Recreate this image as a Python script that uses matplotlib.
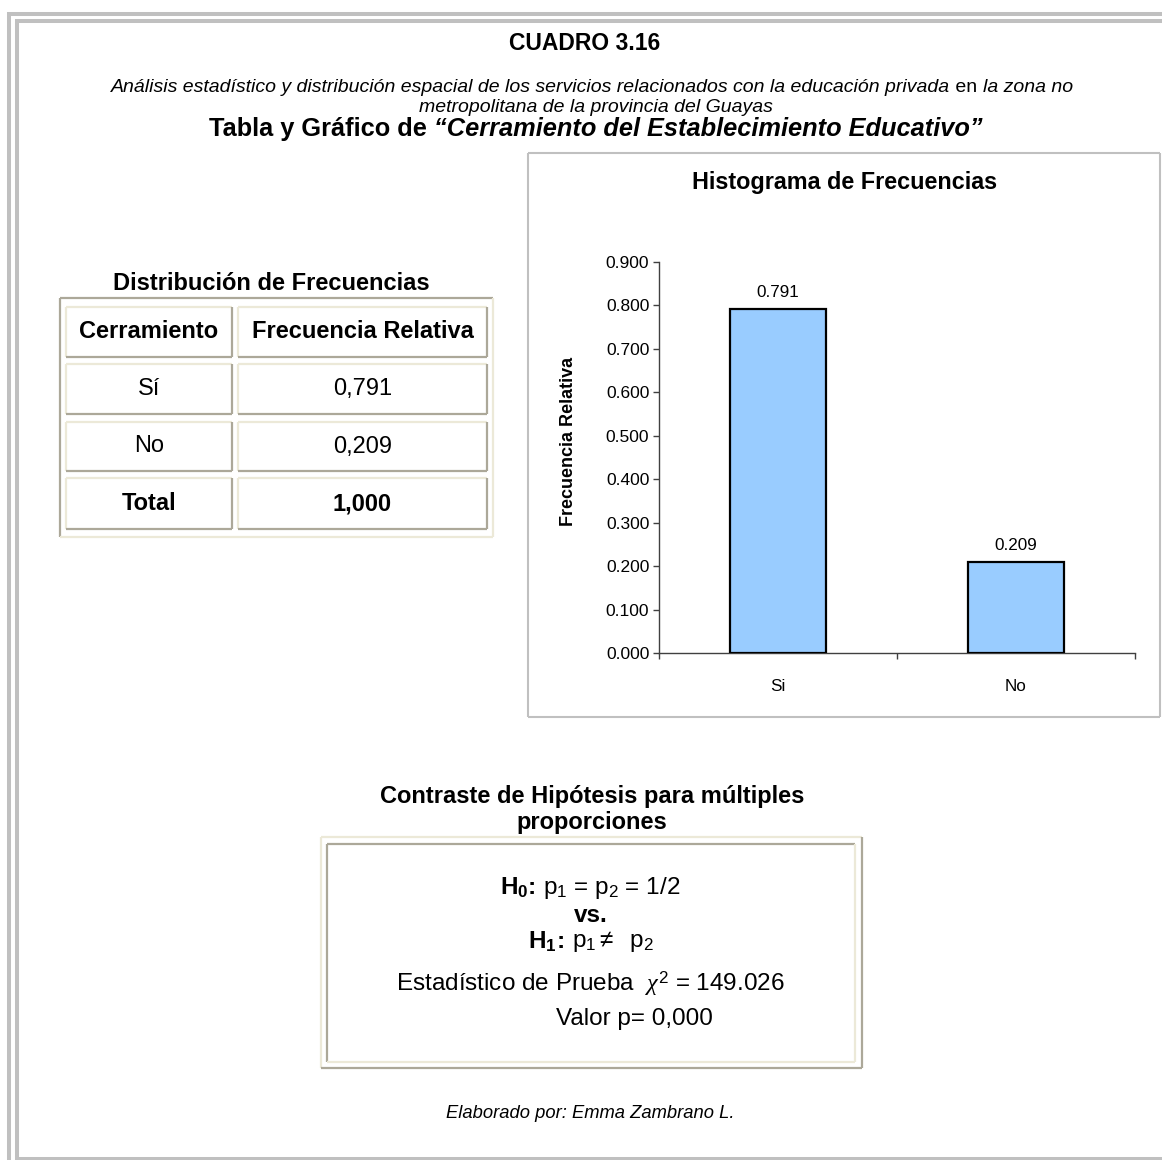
import numpy as np
import matplotlib
matplotlib.use("Agg")
import matplotlib.pyplot as plt
from matplotlib.ticker import FixedLocator, FormatStrFormatter

plt.rcParams['font.family'] = ['Liberation Sans', 'DejaVu Sans']
plt.rcParams['mathtext.fontset'] = 'custom'
plt.rcParams['mathtext.rm'] = 'Liberation Sans'
plt.rcParams['mathtext.bf'] = 'Liberation Sans:bold'
plt.rcParams['mathtext.it'] = 'Liberation Serif:italic'

# data
categorias = ['Si', 'No']
frecuencias = [0.791, 0.209]
y_ticks = [0.0, 0.1, 0.2, 0.3, 0.4, 0.5, 0.6, 0.7, 0.8, 0.9]

tabla_cols = ['Cerramiento', 'Frecuencia Relativa']
tabla_cats = ['Sí', 'No', 'Total']
tabla_vals = ['0,791', '0,209', '1,000']

chi2 = '149.026'
valor_p = '0,000'

W, H = 1162, 1160
GRAY = '#c0c0c0'
DARK = '#aca899'
LIGHT = '#ece9d8'

fig = plt.figure(figsize=(W / 100, H / 100), dpi=100, facecolor='w')
bg = fig.add_axes([0, 0, 1, 1])
bg.set_xlim(0, W)
bg.set_ylim(H, 0)
bg.axis('off')


def hline(x0, x1, y, c, lw):
    bg.plot([x0, x1], [y, y], c=c, lw=lw, solid_capstyle='butt')


def vline(x, y0, y1, c, lw):
    bg.plot([x, x], [y0, y1], c=c, lw=lw, solid_capstyle='butt')


def box3d(x0, y0, x1, y1, tl, br, lw=1.3):
    hline(x0, x1, y0, tl, lw)
    vline(x0, y0, y1, tl, lw)
    hline(x0, x1, y1, br, lw)
    vline(x1, y0, y1, br, lw)


def runs(x, y, parts, size):
    # draw text pieces one after the other, centred on x
    texts = [bg.text(0, y, s, fontsize=size, va='center', ha='left', **kw)
             for s, kw in parts]
    fig.canvas.draw()
    r = fig.canvas.get_renderer()
    widths = [t.get_window_extent(r).width for t in texts]
    cur = x - sum(widths) / 2
    for t, w in zip(texts, widths):
        t.set_x(cur)
        cur += w


# page border
hline(7, W, 14, GRAY, 2.9)
vline(9, 12, H, GRAY, 2.9)
hline(15, W, 21, GRAY, 2.9)
vline(17, 19, H, GRAY, 2.9)
hline(15, W, 1159, GRAY, 2.9)

# titles
B = dict(fontweight='bold')
it = dict(style='italic')
bg.text(585, 43, 'CUADRO 3.16', fontsize=16.5, fontweight='bold', ha='center', va='center')
runs(592, 87, [('Análisis estadístico y distribución espacial de los servicios relacionados '
                'con la educación privada', it), (' en ', {}), ('la zona no', it)], 14)
bg.text(596, 107, 'metropolitana de la provincia del Guayas', fontsize=14, style='italic',
        ha='center', va='center')
runs(596, 129, [('Tabla y Gráfico de ', B),
                ('“Cerramiento del Establecimiento Educativo”',
                 dict(fontweight='bold', style='italic'))], 18.3)

# frequency table
bg.text(271, 284, 'Distribución de Frecuencias', fontsize=17, fontweight='bold',
        ha='center', va='center')
box3d(60, 298, 493, 537, DARK, LIGHT, lw=1.6)
col_x = [(66, 232), (238, 487)]
row_y = [(307, 357), (364, 414), (422, 471), (478, 529)]
filas = [tabla_cols] + [[c, v] for c, v in zip(tabla_cats, tabla_vals)]
for i, fila in enumerate(filas):
    y0, y1 = row_y[i]
    for j, txt in enumerate(fila):
        x0, x1 = col_x[j]
        box3d(x0, y0, x1, y1, LIGHT, DARK, lw=1.6)
        bold = i == 0 or i == len(filas) - 1
        bg.text((x0 + x1) / 2, (y0 + y1) / 2, txt, fontsize=17,
                fontweight='bold' if bold else 'normal', ha='center', va='center')

# chart frame
box3d(528, 153, 1160, 717, GRAY, GRAY, lw=1.5)
bg.text(845, 183, 'Histograma de Frecuencias', fontsize=16.8, fontweight='bold',
        ha='center', va='center')

ax = fig.add_axes([659 / W, 1 - 653 / H, (1135 - 659) / W, (653 - 262) / H])
x = np.arange(len(categorias))
ax.bar(x, frecuencias, width=0.4, color='#99ccff', edgecolor='black', lw=1.6, zorder=3)
for xi, v in zip(x, frecuencias):
    ax.annotate(f'{v:.3f}', (xi, v), xytext=(0, 12), textcoords='offset points',
                ha='center', va='center', fontsize=12.3)
ax.set_xlim(-0.5, len(categorias) - 0.5)
ax.set_ylim(0, 0.9)
ax.set_yticks(y_ticks)
ax.yaxis.set_major_formatter(FormatStrFormatter('%.3f'))
ax.set_xticks(x)
ax.set_xticklabels(categorias)
ax.xaxis.set_minor_locator(FixedLocator(np.arange(len(categorias) + 1) - 0.5))
ax.tick_params(axis='x', which='major', length=0, pad=19, labelsize=12.3)
ax.tick_params(axis='x', which='minor', length=4, width=1, color='#404040', direction='out')
ax.tick_params(axis='y', length=4, width=1, color='#404040', labelsize=12.5, pad=3)
for s in ['top', 'right']:
    ax.spines[s].set_visible(False)
for s in ['left', 'bottom']:
    ax.spines[s].set_color('#404040')
    ax.spines[s].set_linewidth(1)
ax.set_ylabel('Frecuencia Relativa', fontsize=13, fontweight='bold')
ax.yaxis.set_label_coords(-0.172, 0.54)

# hypothesis test
bg.text(592, 797, 'Contraste de Hipótesis para múltiples', fontsize=17,
        fontweight='bold', ha='center', va='center')
bg.text(592, 822, 'proporciones', fontsize=17, fontweight='bold', ha='center', va='center')
box3d(321, 837, 862, 1068, LIGHT, DARK, lw=1.6)
box3d(327, 844, 855, 1062, DARK, LIGHT, lw=1.6)

fs = 17.5
runs(590, 888, [(r'$\mathbf{H_0}$', {}), (': ', B),
                (r'$\mathrm{p_1}$ = $\mathrm{p_2}$ = 1/2', {})], fs)
bg.text(591, 915, 'vs.', fontsize=fs, fontweight='bold', ha='center', va='center')
runs(591, 942, [(r'$\mathbf{H_1}$', {}), (': ', B),
                (r'$\mathrm{p_1}\neq$  $\mathrm{p_2}$', {})], fs)
bg.text(590, 984, r'Estadístico de Prueba  $\chi^{2}$ = ' + chi2, fontsize=fs,
        ha='center', va='center')
bg.text(634, 1019, 'Valor p= ' + valor_p, fontsize=fs, ha='center', va='center')

bg.text(590, 1113, 'Elaborado por: Emma Zambrano L.', fontsize=13.2, style='italic',
        ha='center', va='center')

fig.savefig('out.png', dpi=100, facecolor='w')
